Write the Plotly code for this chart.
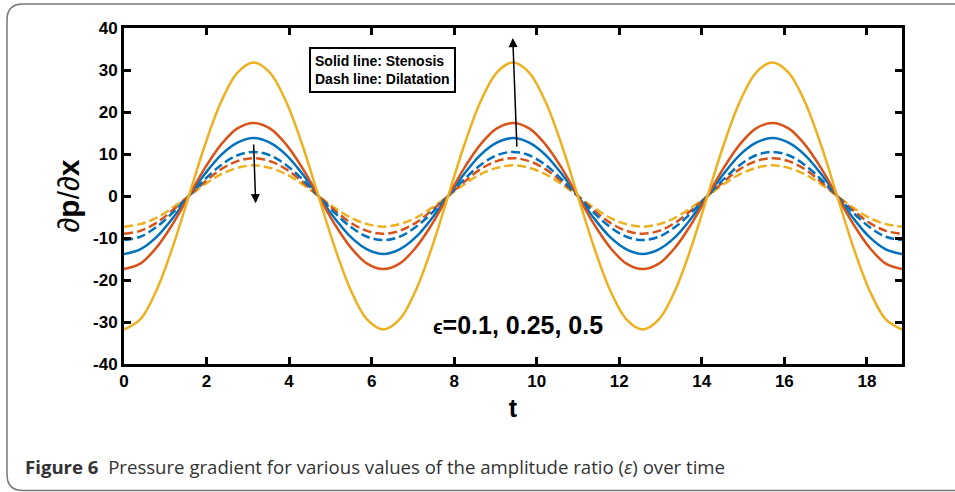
import plotly.graph_objects as go

# ---------------- data ----------------
t = [0.0, 0.393, 0.785, 1.178, 1.571, 1.963, 2.356, 2.749, 3.142, 3.534,
     3.927, 4.320, 4.712, 5.105, 5.498, 5.890, 6.283, 6.676, 7.069, 7.461,
     7.854, 8.247, 8.639, 9.032, 9.425, 9.817, 10.210, 10.603, 10.996, 11.388,
     11.781, 12.174, 12.566, 12.959, 13.352, 13.744, 14.137, 14.530, 14.923,
     15.315, 15.708, 16.101, 16.493, 16.886, 17.279, 17.671, 18.064, 18.457,
     18.850]

stenosis_yellow = [
    -31.8, -29.4, -22.5, -12.2, 0, 12.2, 22.5, 29.4, 31.8, 29.4, 22.5, 12.2, 0, -12.2, -22.5, -29.4,
    -31.8, -29.4, -22.5, -12.2, 0, 12.2, 22.5, 29.4, 31.8, 29.4, 22.5, 12.2, 0, -12.2, -22.5, -29.4,
    -31.8, -29.4, -22.5, -12.2, 0, 12.2, 22.5, 29.4, 31.8, 29.4, 22.5, 12.2, 0, -12.2, -22.5, -29.4,
    -31.8]
stenosis_red = [
    -17.4, -16.1, -12.3, -6.7, 0, 6.7, 12.3, 16.1, 17.4, 16.1, 12.3, 6.7, 0, -6.7, -12.3, -16.1,
    -17.4, -16.1, -12.3, -6.7, 0, 6.7, 12.3, 16.1, 17.4, 16.1, 12.3, 6.7, 0, -6.7, -12.3, -16.1,
    -17.4, -16.1, -12.3, -6.7, 0, 6.7, 12.3, 16.1, 17.4, 16.1, 12.3, 6.7, 0, -6.7, -12.3, -16.1,
    -17.4]
stenosis_blue = [
    -13.8, -12.7, -9.8, -5.3, 0, 5.3, 9.8, 12.7, 13.8, 12.7, 9.8, 5.3, 0, -5.3, -9.8, -12.7,
    -13.8, -12.7, -9.8, -5.3, 0, 5.3, 9.8, 12.7, 13.8, 12.7, 9.8, 5.3, 0, -5.3, -9.8, -12.7,
    -13.8, -12.7, -9.8, -5.3, 0, 5.3, 9.8, 12.7, 13.8, 12.7, 9.8, 5.3, 0, -5.3, -9.8, -12.7,
    -13.8]
dilatation_blue = [
    -10.5, -9.7, -7.4, -4.0, 0, 4.0, 7.4, 9.7, 10.5, 9.7, 7.4, 4.0, 0, -4.0, -7.4, -9.7,
    -10.5, -9.7, -7.4, -4.0, 0, 4.0, 7.4, 9.7, 10.5, 9.7, 7.4, 4.0, 0, -4.0, -7.4, -9.7,
    -10.5, -9.7, -7.4, -4.0, 0, 4.0, 7.4, 9.7, 10.5, 9.7, 7.4, 4.0, 0, -4.0, -7.4, -9.7,
    -10.5]
dilatation_red = [
    -9.0, -8.3, -6.4, -3.4, 0, 3.4, 6.4, 8.3, 9.0, 8.3, 6.4, 3.4, 0, -3.4, -6.4, -8.3,
    -9.0, -8.3, -6.4, -3.4, 0, 3.4, 6.4, 8.3, 9.0, 8.3, 6.4, 3.4, 0, -3.4, -6.4, -8.3,
    -9.0, -8.3, -6.4, -3.4, 0, 3.4, 6.4, 8.3, 9.0, 8.3, 6.4, 3.4, 0, -3.4, -6.4, -8.3,
    -9.0]
dilatation_yellow = [
    -7.3, -6.7, -5.2, -2.8, 0, 2.8, 5.2, 6.7, 7.3, 6.7, 5.2, 2.8, 0, -2.8, -5.2, -6.7,
    -7.3, -6.7, -5.2, -2.8, 0, 2.8, 5.2, 6.7, 7.3, 6.7, 5.2, 2.8, 0, -2.8, -5.2, -6.7,
    -7.3, -6.7, -5.2, -2.8, 0, 2.8, 5.2, 6.7, 7.3, 6.7, 5.2, 2.8, 0, -2.8, -5.2, -6.7,
    -7.3]

x_ticks = [0, 2, 4, 6, 8, 10, 12, 14, 16, 18]
y_ticks = [-40, -30, -20, -10, 0, 10, 20, 30, 40]
y_tick_labels = ["-40", "-30", "-20", "-10", "0", "10", "20", "30", "40"]

# ---------------- styling ----------------
BLUE, RED, YELLOW = "#0072BD", "#D95319", "#EDB120"
FONT = "Liberation Sans, Arial, sans-serif"
W, H = 955, 492
ML, MR, MT, MB = 124, 53, 28, 128
PW, PH = W - ML - MR, H - MT - MB

def px_x(p):
    return (p - ML) / PW

def px_y(p):
    return (H - MB - p) / PH

fig = go.Figure()
series = [
    (dilatation_yellow, YELLOW, "9px,4px"),
    (dilatation_red, RED, "9px,4px"),
    (dilatation_blue, BLUE, "9px,4px"),
    (stenosis_blue, BLUE, "solid"),
    (stenosis_red, RED, "solid"),
    (stenosis_yellow, YELLOW, "solid"),
]
for ys, col, dash in series:
    fig.add_trace(go.Scatter(x=t, y=ys, mode="lines",
                             line=dict(color=col, width=2.5, dash=dash,
                                       shape="spline", smoothing=1.0),
                             showlegend=False, hoverinfo="skip"))

axis_common = dict(showline=True, linecolor="black", linewidth=3, mirror="ticks",
                   ticks="inside", ticklen=7, tickwidth=3, tickcolor="black",
                   showgrid=False, zeroline=False,
                   tickfont=dict(family=FONT, size=17, color="black", weight="bold"))

fig.update_xaxes(range=[0, 18.85], tickvals=x_ticks, **axis_common,
                 title=dict(text="<b>t</b>", font=dict(family=FONT, size=25, color="black"),
                            standoff=10))
fig.update_yaxes(range=[-40, 40], tickvals=y_ticks, ticktext=y_tick_labels, **axis_common,
                 title=dict(text="∂<b>p</b>/∂<b>x</b>",
                            font=dict(family=FONT, size=30, color="black"),
                            standoff=5))

annotations = [
    dict(x=px_x(309), y=px_y(70), xref="paper", yref="paper", xanchor="left",
         yanchor="middle", align="left", showarrow=False,
         text="<b>Solid line: Stenosis<br>Dash line: Dilatation</b>",
         font=dict(family=FONT, size=14, color="black"),
         bordercolor="black", borderwidth=2, borderpad=4, bgcolor="white"),
    dict(x=9.55, y=-30.7, xref="x", yref="y", showarrow=False,
         text="<b><span style='font-size:20px'>ϵ</span>=0.1, 0.25, 0.5</b>",
         font=dict(family=FONT, size=25, color="black")),
    dict(x=3.19, y=-1.7, ax=3.14, ay=12.6, xref="x", yref="y", axref="x", ayref="y",
         showarrow=True, arrowhead=2, arrowsize=1.2, arrowwidth=1.5, arrowcolor="black", text=""),
    dict(x=9.42, y=37.6, ax=9.52, ay=11.4, xref="x", yref="y", axref="x", ayref="y",
         showarrow=True, arrowhead=2, arrowsize=1.2, arrowwidth=1.5, arrowcolor="black", text=""),
    dict(x=px_x(23), y=px_y(466), xref="paper", yref="paper", xanchor="left",
         yanchor="middle", showarrow=False,
         text="<b>Figure 6</b>  Pressure gradient for various values of the amplitude ratio (<i>ε</i>) over time",
         font=dict(family="Open Sans, Noto Sans", size=18.6, color="#333333")),
]

# rounded page border
r = 16
L, T, B, R = 7, 4, 490.5, 970
path = (f"M {px_x(R)},{px_y(T)} L {px_x(L + r)},{px_y(T)} "
        f"Q {px_x(L)},{px_y(T)} {px_x(L)},{px_y(T + r)} "
        f"L {px_x(L)},{px_y(B - r)} Q {px_x(L)},{px_y(B)} {px_x(L + r)},{px_y(B)} "
        f"L {px_x(R)},{px_y(B)}")

fig.update_layout(
    width=W, height=H, margin=dict(l=ML, r=MR, t=MT, b=MB),
    paper_bgcolor="white", plot_bgcolor="white",
    annotations=annotations,
    shapes=[dict(type="path", path=path, xref="paper", yref="paper",
                 line=dict(color="#777777", width=1.5), layer="above")],
)

fig.write_html("out.html")
